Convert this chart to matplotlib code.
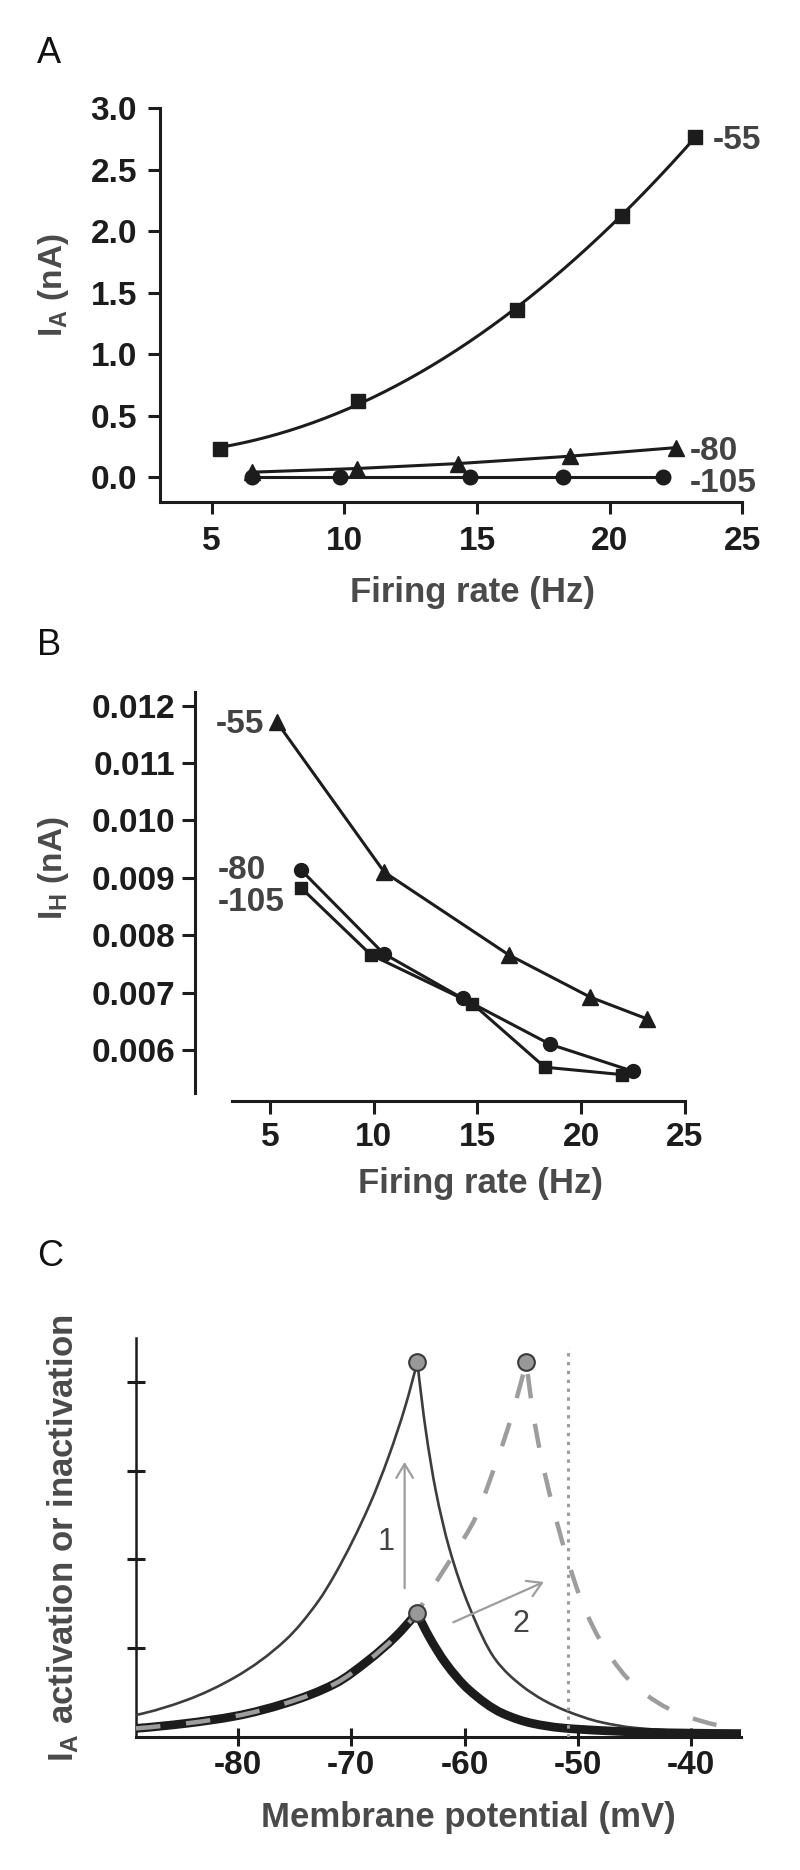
import numpy as np
import matplotlib
matplotlib.use("Agg")
import matplotlib.pyplot as plt
from matplotlib.path import Path
from matplotlib.patches import PathPatch

# ---------------- data ----------------
# firing rates (Hz) for the three holding potentials
rate_55 = [5.3, 10.5, 16.5, 20.45, 23.2]
rate_80 = [6.5, 10.47, 14.28, 18.5, 22.5]
rate_105 = [6.5, 9.85, 14.75, 18.25, 22.0]

# panel A: I_A (nA)
ia_55 = [0.23, 0.62, 1.36, 2.12, 2.77]
ia_80 = [0.04, 0.07, 0.11, 0.17, 0.24]
ia_105 = [0.0, 0.0, 0.0, 0.0, 0.0]

# panel B: I_H (nA)
ih_55 = [0.01172, 0.00910, 0.00766, 0.00692, 0.00654]
ih_80 = [0.00913, 0.00768, 0.00690, 0.00610, 0.00563]
ih_105 = [0.00882, 0.00766, 0.00681, 0.00570, 0.00557]

series_labels = ["-55", "-80", "-105"]
a_yticks = [0.0, 0.5, 1.0, 1.5, 2.0, 2.5, 3.0]
b_yticks = [0.006, 0.007, 0.008, 0.009, 0.010, 0.011, 0.012]
rate_ticks = [5, 10, 15, 20, 25]

# panel C: schematic activation / inactivation window (mV, a.u.)
thin_left_v = [-89.0, -84.6, -80.2, -75.8, -72.9, -71.4, -68.4, -66.7, -65.2, -64.17]
thin_left_y = [0.245, 0.41, 0.675, 1.09, 1.53, 1.84, 2.61, 3.16, 3.74, 4.23]
thin_right_v = [-64.17, -63.43, -62.55, -61.38, -59.6, -57.25, -55.0, -53.0,
                -51.0, -48.0, -45.0, -41.0, -35.6]
thin_right_y = [4.23, 3.46, 2.78, 2.14, 1.47, 0.866, 0.58, 0.41,
                0.29, 0.165, 0.10, 0.065, 0.05]

thick_left_v = [-89.0, -84.6, -80.2, -75.8, -71.4, -68.44, -66.08, -64.2]
thick_left_y = [0.094, 0.15, 0.233, 0.377, 0.60, 0.866, 1.13, 1.40]
thick_right_v = [-64.2, -63.14, -61.67, -59.6, -56.66, -54.0, -51.5, -48.0,
                 -44.0, -40.0, -35.6]
thick_right_y = [1.40, 1.13, 0.83, 0.527, 0.264, 0.15, 0.10, 0.07,
                 0.05, 0.04, 0.035]

dash_rise_v = [-63.14, -61.08, -59.0, -57.55, -56.22, -55.2, -54.55]
dash_rise_y = [1.62, 2.03, 2.48, 2.97, 3.46, 3.91, 4.23]
dash_fall_v = [-54.55, -54.0, -53.28, -52.25, -51.08, -49.6, -47.7, -44.93,
               -41.1, -36.67, -35.6]
dash_fall_y = [4.23, 3.69, 3.18, 2.615, 2.07, 1.506, 1.016, 0.572,
               0.264, 0.106, 0.09]

peak_v = [-64.17, -54.55, -64.2]
peak_y = [4.23, 4.23, 1.40]
threshold_v = -50.87
c_xticks = [-80, -70, -60, -50, -40]
c_yticks = [1, 2, 3, 4]

# ---------------- style ----------------
plt.rcParams['font.family'] = ['Liberation Sans', 'DejaVu Sans']
plt.rcParams['font.weight'] = 'bold'
plt.rcParams['axes.unicode_minus'] = False
plt.rcParams['mathtext.fontset'] = 'custom'
plt.rcParams['mathtext.rm'] = 'Liberation Sans:bold'
plt.rcParams['mathtext.bf'] = 'Liberation Sans:bold'
plt.rcParams['mathtext.it'] = 'Liberation Sans:bold'

INK = '#1c1c1c'
LAB = '#4a4a4a'
VAL = '#434343'
GREY = '#9d9d9d'

W, H = 800, 1870
fig = plt.figure(figsize=(8, 18.7), dpi=100)
fig.patch.set_facecolor('white')


def fx(px):
    return px / W


def fy(py):
    return 1 - py / H


def axes_px(left, top, right, bottom):
    return fig.add_axes([fx(left), fy(bottom), (right - left) / W, (bottom - top) / H])


def style_axes(ax, lw=2.2):
    for s in ['top', 'right']:
        ax.spines[s].set_visible(False)
    for s in ['left', 'bottom']:
        ax.spines[s].set_linewidth(lw)
        ax.spines[s].set_color(INK)


def branch_slopes(x, y):
    """Monotone (PCHIP-like) tangents for a branch given as x-monotone points."""
    x = np.asarray(x, float)
    y = np.asarray(y, float)
    h = np.diff(x)
    d = np.diff(y) / h
    n = len(x)
    m = np.zeros(n)
    for i in range(1, n - 1):
        if d[i - 1] * d[i] <= 0:
            m[i] = 0.0
        else:
            w1 = 2 * h[i] + h[i - 1]
            w2 = h[i] + 2 * h[i - 1]
            m[i] = (w1 + w2) / (w1 / d[i - 1] + w2 / d[i])

    def end(h0, h1, d0, d1):
        if len(h) < 2:
            return d0
        s = ((2 * h0 + h1) * d0 - h0 * d1) / (h0 + h1)
        if np.sign(s) != np.sign(d0):
            return 0.0
        if np.sign(d0) != np.sign(d1) and abs(s) > abs(3 * d0):
            return 3 * d0
        return s

    m[0] = end(h[0], h[1] if len(h) > 1 else h[0], d[0], d[1] if len(d) > 1 else d[0])
    m[-1] = end(h[-1], h[-2] if len(h) > 1 else h[-1], d[-1], d[-2] if len(d) > 1 else d[-1])
    return x, y, m


def smooth_path(*branches):
    """Build one continuous Bezier path through consecutive branches
    (each branch is a pair of x/y lists sharing its first point with the
    previous branch's last point)."""
    verts, codes = [], []
    for bi, (bx, by) in enumerate(branches):
        x, y, m = branch_slopes(bx, by)
        if bi == 0:
            verts.append((x[0], y[0]))
            codes.append(Path.MOVETO)
        for i in range(len(x) - 1):
            hh = x[i + 1] - x[i]
            verts += [(x[i] + hh / 3, y[i] + m[i] * hh / 3),
                      (x[i + 1] - hh / 3, y[i + 1] - m[i + 1] * hh / 3),
                      (x[i + 1], y[i + 1])]
            codes += [Path.CURVE4] * 3
    return Path(verts, codes)


# ---------------- panel A ----------------
axA = axes_px(160, 108.3, 742.3, 501.7)
axA.set_xlim(3.05, 25)
axA.set_ylim(-0.2, 3.0)
style_axes(axA)
coef = np.polyfit(rate_55, ia_55, 2)
xfit = np.linspace(rate_55[0], rate_55[-1], 200)
axA.plot(xfit, np.polyval(coef, xfit), color=INK, lw=2.2, zorder=3)
axA.plot(rate_55, ia_55, 's', ms=9.5, color=INK, zorder=4)
axA.plot(rate_80, ia_80, '-^', ms=11, lw=2.2, color=INK, zorder=4)
axA.plot(rate_105, ia_105, '-o', ms=10.5, lw=2.2, color=INK, zorder=4)
axA.set_yticks(a_yticks)
axA.set_yticklabels([f"{v:.1f}" for v in a_yticks])
axA.set_xticks(rate_ticks)
axA.tick_params(axis='y', direction='out', length=8.5, width=2.2, pad=8,
                labelsize=24, colors=INK)
axA.tick_params(axis='x', direction='out', length=8.5, width=2.2, pad=9,
                labelsize=24, colors=INK)
axA.text(23.9, 2.767, series_labels[0], fontsize=24, color=VAL,
         ha='left', va='center_baseline')
axA.text(23.03, 0.235, series_labels[1], fontsize=24, color=VAL,
         ha='left', va='center_baseline')
axA.text(23.03, -0.025, series_labels[2], fontsize=24, color=VAL,
         ha='left', va='center_baseline')

# ---------------- panel B ----------------
axB = axes_px(194.9, 691.7, 684.6, 1101)
axB.set_xlim(1.357, 25)
axB.set_ylim(0.005111, 0.012244)
style_axes(axB)
axB.spines['bottom'].set_bounds(3.14, 25)
axB.spines['left'].set_bounds(0.005256, 0.012244)
axB.plot(rate_55, ih_55, '-^', ms=11, lw=2.2, color=INK, zorder=4)
axB.plot(rate_80, ih_80, '-o', ms=10, lw=2.2, color=INK, zorder=4)
axB.plot(rate_105, ih_105, '-s', ms=9, lw=2.2, color=INK, zorder=4)
axB.set_yticks(b_yticks)
axB.set_yticklabels([f"{v:.3f}" for v in b_yticks])
axB.set_xticks(rate_ticks)
axB.tick_params(axis='y', direction='out', length=9.4, width=2.2, pad=5,
                labelsize=24, colors=INK)
axB.tick_params(axis='x', direction='out', length=9.4, width=2.2, pad=6,
                labelsize=24, colors=INK)
axB.text(2.35, 0.01174, series_labels[0], fontsize=24, color=VAL,
         ha='left', va='center_baseline')
axB.text(2.47, 0.009195, series_labels[1], fontsize=24, color=VAL,
         ha='left', va='center_baseline')
axB.text(2.47, 0.008625, series_labels[2], fontsize=24, color=VAL,
         ha='left', va='center_baseline')

# ---------------- panel C ----------------
axC = axes_px(136, 1337.7, 741, 1736.7)
axC.set_xlim(-89.0, -35.6)
axC.set_ylim(0, 4.5)
style_axes(axC)
axC.spines['left'].set_linewidth(1.8)

thin_path = smooth_path((thin_left_v, thin_left_y), (thin_right_v, thin_right_y))
axC.add_patch(PathPatch(thin_path, fill=False, edgecolor='#3d3d3d', lw=1.9,
                        zorder=3, joinstyle='miter'))
thick_path = smooth_path((thick_left_v, thick_left_y), (thick_right_v, thick_right_y))
axC.add_patch(PathPatch(thick_path, fill=False, edgecolor=INK, lw=6.3,
                        zorder=4, joinstyle='miter', capstyle='butt'))
dash_path = smooth_path((thick_left_v + dash_rise_v, thick_left_y + dash_rise_y),
                        (dash_fall_v, dash_fall_y))
axC.add_patch(PathPatch(dash_path, fill=False, edgecolor=GREY, lw=3.2,
                        zorder=5, linestyle=(0, (5.5, 5.8)), capstyle='butt'))
axC.plot([threshold_v, threshold_v], [0, 4.40], color=GREY, lw=2.2, zorder=6,
         linestyle=(0, (1.1, 1.8)))
axC.plot(peak_v, peak_y, 'o', ms=12, mfc='#999999', mec='#3a3a3a', mew=1.5,
         zorder=7, linestyle='none')
arrow_kw = dict(arrowstyle='->,head_length=0.5,head_width=0.3',
                color=GREY, lw=1.6, mutation_scale=20,
                shrinkA=0, shrinkB=0)
axC.annotate('', xy=(-65.29, 3.10), xytext=(-65.29, 1.675),
             arrowprops=arrow_kw, zorder=6)
axC.annotate('', xy=(-53.0, 1.745), xytext=(-61.0, 1.29),
             arrowprops=arrow_kw, zorder=6)
axC.text(-66.88, 2.23, '1', fontsize=22, fontweight='normal', color='#444444',
         ha='center', va='center_baseline')
axC.text(-55.05, 1.306, '2', fontsize=22, fontweight='normal', color='#444444',
         ha='center', va='center_baseline')
axC.set_xticks(c_xticks)
axC.set_yticks(c_yticks)
axC.set_yticklabels([])
axC.tick_params(axis='both', direction='inout', length=13.5, width=2.2,
                pad=3, labelsize=24, colors=INK)

# ---------------- labels ----------------
for letter, ybase in [('A', 63.3), ('B', 655), ('C', 1266.5)]:
    fig.text(fx(37), fy(ybase), letter, fontsize=26, fontweight='normal',
             color='#111111', ha='left', va='baseline')

fig.text(fx(472.5), fy(601.7), 'Firing rate (Hz)', fontsize=25, color=LAB,
         ha='center', va='baseline')
fig.text(fx(481), fy(1193.5), 'Firing rate (Hz)', fontsize=25, color=LAB,
         ha='center', va='baseline')
fig.text(fx(468), fy(1826.7), 'Membrane potential (mV)', fontsize=25, color=LAB,
         ha='center', va='baseline')

fig.text(fx(53.5), fy(285), r'I$_\mathrm{A}$ (nA)', fontsize=24, color=LAB,
         rotation=90, ha='center', va='center')
fig.text(fx(53.5), fy(868.5), r'I$_\mathrm{H}$ (nA)', fontsize=24, color=LAB,
         rotation=90, ha='center', va='center')
fig.text(fx(63), fy(1538), r'I$_\mathrm{A}$ activation or inactivation',
         fontsize=25, color=LAB, rotation=90, ha='center', va='center')

fig.savefig('out.png', dpi=100, facecolor='white')
